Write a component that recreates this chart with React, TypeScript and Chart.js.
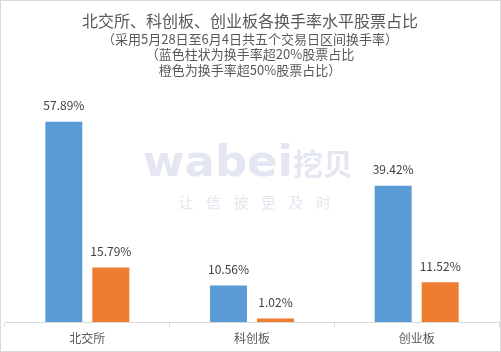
import React, { useEffect, useRef } from "react";
import { Chart, registerables } from "chart.js";

Chart.register(...registerables);

const categories = ["北交所", "科创板", "创业板"];
const over20Share = [57.89, 10.56, 39.42];
const over50Share = [15.79, 1.02, 11.52];
const titleMain = "北交所、科创板、创业板各换手率水平股票占比";
const titleSubLines = [
  "（采用5月28日至6月4日共五个交易日区间换手率）",
  "（蓝色柱状为换手率超20%股票占比",
  "橙色为换手率超50%股票占比）",
];
const watermarkLogo = "wabei";
const watermarkCn = "挖贝";
const watermarkSlogan = ["让", "信", "披", "更", "及", "时"];

const FONT = '"Noto Sans CJK SC", "Noto Sans", sans-serif';
const TEXT = "#595959";

const decorPlugin = {
  id: "decor",
  beforeDatasetsDraw(chart: any) {
    const ctx = chart.ctx;
    ctx.save();
    ctx.fillStyle = "#e4e6f1";
    ctx.textBaseline = "alphabetic";
    ctx.textAlign = "left";
    ctx.font = `bold 43px "DejaVu Sans", sans-serif`;
    const w = ctx.measureText(watermarkLogo).width;
    ctx.save();
    ctx.translate(143, 176);
    ctx.scale(150 / w, 1);
    ctx.fillText(watermarkLogo, 0, 0);
    ctx.restore();
    ctx.font = `bold 30px ${FONT}`;
    ctx.fillText(watermarkCn, 293, 175);
    ctx.font = `15px ${FONT}`;
    ctx.textAlign = "center";
    ctx.textBaseline = "middle";
    watermarkSlogan.forEach((c, i) => {
      ctx.fillText(c, 186 + i * 27.5, 202);
    });
    ctx.restore();
  },
  afterDraw(chart: any) {
    const ctx = chart.ctx;
    ctx.save();
    ctx.fillStyle = TEXT;
    ctx.textAlign = "center";
    ctx.textBaseline = "middle";
    ctx.font = `16px ${FONT}`;
    ctx.fillText(titleMain, 250, 21);
    ctx.font = `13px ${FONT}`;
    const ys = [39, 54.5, 70];
    titleSubLines.forEach((t, i) => ctx.fillText(t, 250, ys[i]));
    ctx.strokeStyle = "#d9d9d9";
    ctx.lineWidth = 1;
    ctx.strokeRect(0.5, 0.5, chart.width - 1, chart.height - 1);
    ctx.restore();
  },
};

const labelPlugin = {
  id: "barLabels",
  afterDatasetsDraw(chart: any) {
    const ctx = chart.ctx;
    ctx.save();
    ctx.fillStyle = "#404040";
    ctx.font = `12px ${FONT}`;
    ctx.textAlign = "center";
    ctx.textBaseline = "middle";
    chart.data.datasets.forEach((ds: any, di: number) => {
      const meta = chart.getDatasetMeta(di);
      meta.data.forEach((el: any, i: number) => {
        ctx.fillText(ds.data[i].toFixed(2) + "%", el.x, el.y - 16);
      });
    });
    ctx.restore();
  },
};

export default function App() {
  const ref = useRef<HTMLCanvasElement>(null);
  useEffect(() => {
    document.body.style.margin = "0";
    const chart = new Chart(ref.current as HTMLCanvasElement, {
      type: "bar",
      data: {
        labels: categories,
        datasets: [
          { data: over20Share, backgroundColor: "#5B9BD5", categoryPercentage: 0.571, barPercentage: 0.787 },
          { data: over50Share, backgroundColor: "#ED7D31", categoryPercentage: 0.571, barPercentage: 0.787 },
        ],
      },
      options: {
        responsive: false,
        animation: false,
        layout: { padding: { top: 80, left: 5, right: 2, bottom: 2.6 } },
        plugins: { legend: { display: false }, tooltip: { enabled: false }, title: { display: false } },
        scales: {
          x: {
            grid: { display: true, drawOnChartArea: false, drawTicks: true, tickLength: 5, color: "#d9d9d9" },
            border: { display: true, color: "#d9d9d9" },
            ticks: { color: TEXT, font: { size: 12, family: FONT }, padding: 4 },
          },
          y: { display: false, min: 0, max: 70 },
        },
      },
      plugins: [decorPlugin, labelPlugin],
    });
    return () => chart.destroy();
  }, []);
  return <canvas ref={ref} width={501} height={352} style={{ display: "block" }} />;
}
